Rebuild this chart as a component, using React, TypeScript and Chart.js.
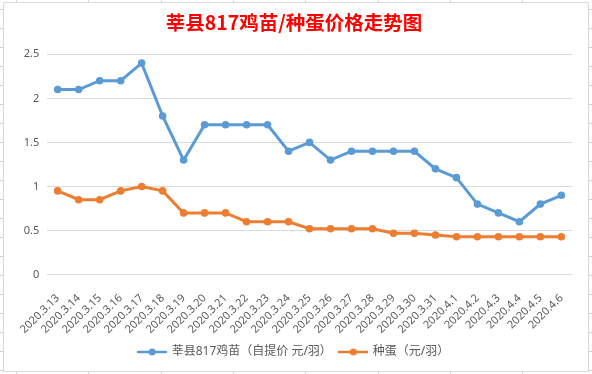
import React, { useEffect, useRef } from "react";
import { Chart, registerables } from "chart.js";

Chart.register(...registerables);

const TITLE = "莘县817鸡苗/种蛋价格走势图";
const categories = [
  "2020.3.13", "2020.3.14", "2020.3.15", "2020.3.16", "2020.3.17", "2020.3.18",
  "2020.3.19", "2020.3.20", "2020.3.21", "2020.3.22", "2020.3.23", "2020.3.24",
  "2020.3.25", "2020.3.26", "2020.3.27", "2020.3.28", "2020.3.29", "2020.3.30",
  "2020.3.31", "2020.4.1", "2020.4.2", "2020.4.3", "2020.4.4", "2020.4.5", "2020.4.6",
];
const seriesNames = ["莘县817鸡苗（自提价 元/羽）", "种蛋（元/羽）"];
const chickValues = [
  2.1, 2.1, 2.2, 2.2, 2.4, 1.8, 1.3, 1.7, 1.7, 1.7, 1.7, 1.4, 1.5, 1.3, 1.4, 1.4,
  1.4, 1.4, 1.2, 1.1, 0.8, 0.7, 0.6, 0.8, 0.9,
];
const eggValues = [
  0.95, 0.85, 0.85, 0.95, 1.0, 0.95, 0.7, 0.7, 0.7, 0.6, 0.6, 0.6, 0.52, 0.52, 0.52,
  0.52, 0.47, 0.47, 0.45, 0.43, 0.43, 0.43, 0.43, 0.43, 0.43,
];
const yMin = 0;
const yMax = 2.5;
const yStep = 0.5;

const BLUE = "#5B9BD5";
const ORANGE = "#ED7D31";
const TEXT = "#595959";
const GRID = "#d9d9d9";
const FONT = "'Noto Sans', 'Noto Sans CJK SC', sans-serif";

function makeMarker(color: string): HTMLCanvasElement {
  const c = document.createElement("canvas");
  c.width = 30;
  c.height = 8;
  const g = c.getContext("2d")!;
  g.strokeStyle = color;
  g.lineWidth = 2.5;
  g.beginPath();
  g.moveTo(0, 4);
  g.lineTo(30, 4);
  g.stroke();
  g.fillStyle = color;
  g.beginPath();
  g.arc(15, 4, 3.5, 0, Math.PI * 2);
  g.fill();
  return c;
}

export default function App() {
  const ref = useRef<HTMLCanvasElement>(null);

  useEffect(() => {
    const markers = [makeMarker(BLUE), makeMarker(ORANGE)];
    const chart = new Chart(ref.current!, {
      type: "line",
      data: {
        labels: categories,
        datasets: [
          {
            label: seriesNames[0],
            data: chickValues,
            borderColor: BLUE,
            backgroundColor: BLUE,
            borderWidth: 3,
            pointRadius: 3.8,
            pointBorderWidth: 0,
            pointBackgroundColor: BLUE,
            tension: 0,
          },
          {
            label: seriesNames[1],
            data: eggValues,
            borderColor: ORANGE,
            backgroundColor: ORANGE,
            borderWidth: 3,
            pointRadius: 3.8,
            pointBorderWidth: 0,
            pointBackgroundColor: ORANGE,
            tension: 0,
          },
        ],
      },
      options: {
        animation: false,
        responsive: true,
        maintainAspectRatio: false,
        layout: { padding: { left: 0, right: 4, top: 0, bottom: 3 } },
        plugins: {
          title: {
            display: true,
            text: TITLE,
            color: "#FF0000",
            font: { size: 19.5, weight: "bold", family: "'Noto Sans CJK SC', sans-serif" },
            padding: { top: 8.3, bottom: 19.6 },
          },
          legend: {
            position: "bottom",
            labels: {
              usePointStyle: true,
              pointStyleWidth: 27,
              color: TEXT,
              font: { size: 12, family: FONT },
              padding: 8,
              generateLabels: (ch: any) => {
                const items = (Chart.defaults.plugins.legend.labels as any).generateLabels(ch);
                items.forEach((it: any, i: number) => {
                  it.pointStyle = markers[i];
                });
                return items;
              },
            },
          },
          tooltip: { enabled: false },
        },
        scales: {
          x: {
            offset: true,
            grid: { display: false, drawTicks: false },
            border: { display: false },
            ticks: {
              color: TEXT,
              font: { size: 11, family: FONT },
              maxRotation: 45,
              minRotation: 45,
              autoSkip: false,
              padding: 17,
            },
            afterFit: (s: any) => {
              s.height = 63.4;
            },
          },
          y: {
            min: yMin,
            max: yMax,
            ticks: {
              stepSize: yStep,
              color: TEXT,
              font: { size: 11, family: FONT },
              padding: 8,
              callback: (v: any) => String(v),
            },
            grid: { color: GRID, drawTicks: false, lineWidth: 1 },
            border: { display: false },
            afterFit: (s: any) => {
              s.width = 43.2;
            },
          },
          yPad: {
            position: "right",
            display: true,
            grid: { display: false, drawTicks: false },
            border: { display: false },
            ticks: { display: false },
            afterFit: (s: any) => {
              s.width = 11;
            },
          },
        },
      },
    } as any);
    return () => chart.destroy();
  }, []);

  const sheetBg: React.CSSProperties = {
    position: "fixed",
    left: 0,
    top: 0,
    width: 592,
    height: 374,
    background: "#ffffff",
    backgroundImage:
      "repeating-linear-gradient(to bottom, transparent 0px, transparent 9px, #d4d4d4 9px, #d4d4d4 10px, transparent 10px, transparent 19px)," +
      "repeating-linear-gradient(to right, transparent 0px, transparent 16px, #d4d4d4 16px, #d4d4d4 17px, transparent 17px, transparent 72.3px)",
    overflow: "hidden",
  };

  return (
    <div style={sheetBg}>
      <div
        style={{
          position: "absolute",
          left: 3,
          top: 2,
          width: 586,
          height: 370,
          boxSizing: "border-box",
          border: `1px solid ${GRID}`,
          background: "#ffffff",
        }}
      >
        <div style={{ position: "relative", width: 584, height: 368 }}>
          <canvas ref={ref} />
        </div>
      </div>
    </div>
  );
}
